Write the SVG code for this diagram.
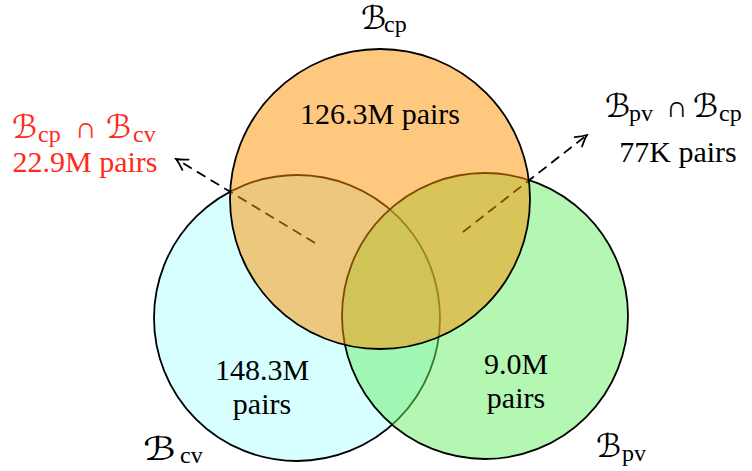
<svg xmlns="http://www.w3.org/2000/svg" width="752" height="471" viewBox="0 0 752 471">
<style>
text{font-family:'Liberation Serif','DejaVu Serif',serif;font-size:30px;fill:#000}
.b{font-family:'DejaVu Sans',sans-serif;font-size:32px}
.s{font-size:24px}
.red{fill:#ff2a1a}
.edge{fill:none;stroke:#000;stroke-width:1.8;stroke-dasharray:10 6}
.circ{stroke:#000;stroke-width:1.8}
</style>
<defs>
<marker id="ah" markerUnits="userSpaceOnUse" viewBox="-13 -8 15 16" markerWidth="15" markerHeight="16" refX="0" refY="0" orient="auto">
<path d="M-11,-6 Q-4,-1.5 0,0 Q-4,1.5 -11,6" fill="none" stroke="#000" stroke-width="1.8" stroke-linecap="round"/>
</marker>
</defs>
<rect width="752" height="471" fill="#fff"/>
<g id="node-cv">
<circle class="circ" cx="297" cy="318" r="143" fill="#d8ffff"/>
</g>
<g id="node-pv">
<circle class="circ" cx="485" cy="316" r="143" fill="#67ef67" fill-opacity="0.5"/>
</g>
<g id="connectors">
<path class="edge" d="M315,243 L176,159" marker-end="url(#ah)"/>
<path class="edge" d="M463,232 L587,135" marker-end="url(#ah)"/>
</g>
<g id="node-cp">
<circle class="circ" cx="380" cy="199" r="150" fill="#ff9100" fill-opacity="0.5"/>
</g>
<g id="labels">
<text x="380" y="124" text-anchor="middle">126.3M pairs</text>
<text x="262" y="380" text-anchor="middle">148.3M</text>
<text x="262" y="414" text-anchor="middle">pairs</text>
<text x="516" y="374" text-anchor="middle">9.0M</text>
<text x="516" y="408" text-anchor="middle">pairs</text>
<text x="361" y="29"><tspan class="b" font-size="28">ℬ</tspan><tspan class="s" x="384" dy="3">cp</tspan></text>
<text class="b" font-size="38" transform="translate(143,460) scale(1.3,1)">ℬ</text>
<text class="s" font-size="27" x="180" y="463">cv</text>
<text x="596" y="457"><tspan class="b" font-size="36">ℬ</tspan><tspan class="s" x="622" dy="4">pv</tspan></text>
<text class="red" x="12" y="138"><tspan class="b" font-size="34">ℬ</tspan><tspan class="s" x="38" dy="4">cp</tspan><tspan x="75" dy="-4">∩</tspan><tspan class="b" x="106" font-size="34">ℬ</tspan><tspan class="s" x="133" dy="4">cv</tspan></text>
<text class="red" x="85" y="172" text-anchor="middle">22.9M pairs</text>
<text x="605" y="117"><tspan class="b" font-size="33">ℬ</tspan><tspan class="s" x="629" dy="4">pv</tspan><tspan x="666" dy="-4">∩</tspan><tspan class="b" x="693" font-size="33">ℬ</tspan><tspan class="s" x="719" dy="4">cp</tspan></text>
<text x="678" y="162" text-anchor="middle">77K pairs</text>
</g>
</svg>
